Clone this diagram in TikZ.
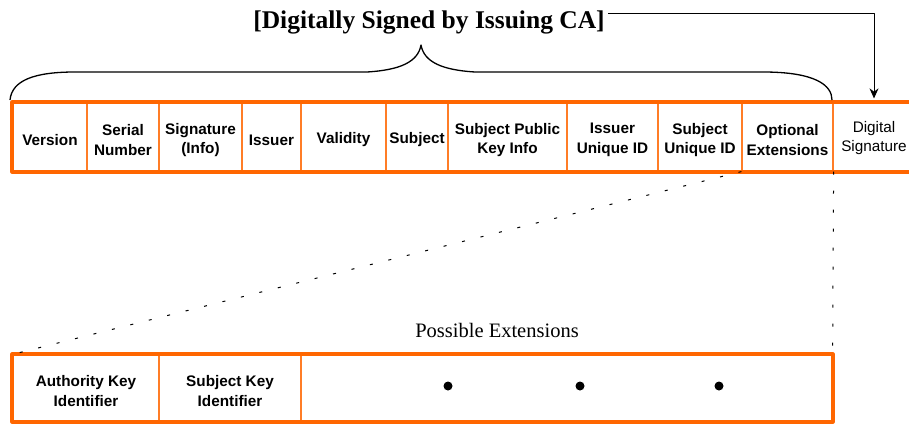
\documentclass[tikz,border=0pt]{standalone}
\usepackage{fontspec}
\setmainfont{Liberation Serif}
\setsansfont{Liberation Sans}
\usetikzlibrary{arrows.meta}
\definecolor{certorange}{RGB}{255,102,0}
\tikzset{
  cell/.style={draw=certorange!85,line width=1.2pt,inner sep=0pt},
  celltext/.style={align=center,yshift=-3,font=\sffamily\bfseries\fontsize{15.3}{19.5}\selectfont},
  frame/.style={draw=certorange,line width=4pt},
  sparse/.style={line width=1pt,dash pattern=on 3pt off 16pt},
  bigdot/.style={circle,fill,inner sep=0pt,minimum size=9pt}
}
\begin{document}
\begin{tikzpicture}[x=1pt,y=-1pt,>={Stealth[length=10pt,width=9pt]}, line join=round]
  \def\ytop{103} \def\ybot{171} \def\ylo{355} \def\yhi{421}
  \useasboundingbox (0,0) rectangle (909,423);
  \clip (0,0) rectangle (909,423);
  \foreach \l/\r/\n/\t in {13/87/ver/Version, 87/159/ser/{Serial\\Number},
      159/242/sgi/{Signature\\(Info)}, 242/301/iss/Issuer, 301/386/val/Validity,
      386/448/sub/Subject, 448/567/spk/{Subject Public\\Key Info},
      567/658/iui/{Issuer\\Unique ID}, 658/742/sui/{Subject\\Unique ID},
      742/833/opt/{Optional\\Extensions}}
    \node[cell,minimum width=\r-\l,minimum height=\ybot-\ytop,label={[celltext]center:{\t}}]
      (\n) at ({(\l+\r)/2},{(\ytop+\ybot)/2}) {};
  \node[cell,minimum width=82,minimum height=\ybot-\ytop,
    label={[celltext,yshift=2,font=\sffamily\fontsize{15.3}{19.5}\selectfont]center:{Digital\\Signature}}]
    (sig) at (874,{(\ytop+\ybot)/2}) {};
  \draw[frame] (ver.north west) rectangle (sig.south east);
  \foreach \l/\r/\n/\t in {13/159/akey/{Authority Key\\Identifier}, 159/301/skey/{Subject Key\\Identifier},
      301/832/more/{}}
    \node[cell,minimum width=\r-\l,minimum height=\yhi-\ylo,label={[celltext]center:{\t}}]
      (\n) at ({(\l+\r)/2},{(\ylo+\yhi)/2}) {};
  \draw[frame] (akey.north west) rectangle (more.south east);
  \node[bigdot] (dot1) at (448,386) {};
  \node[bigdot] (dot2) at (580,386) {};
  \node[bigdot] (dot3) at (719,386) {};
  \node[anchor=base,font=\fontsize{20.5}{24}\selectfont] (poss) at (497,337) {Possible Extensions};
  \draw[sparse] (opt.south west) -- (akey.north west);
  \draw[sparse] (opt.south east) -- (more.north east);
  \node[anchor=base,font=\bfseries\fontsize{25.5}{30}\selectfont] (title) at (429,28) {[Digitally Signed by Issuing CA]};
  \draw[->,line width=1pt,shorten >=4pt] (title.east |- 0,13) -| (sig.north);
  \coordinate (tip) at (421,45);
  \draw[line width=1.3pt] (10,100) .. controls (12,80) and (35,72) .. (75,72) -- (367,72)
    .. controls (400,70) and (418,62) .. (tip) .. controls (424,62) and (442,70) .. (475,72)
    -- (763,72) .. controls (815,72) and (832,85) .. (832,100);
\end{tikzpicture}
\end{document}
